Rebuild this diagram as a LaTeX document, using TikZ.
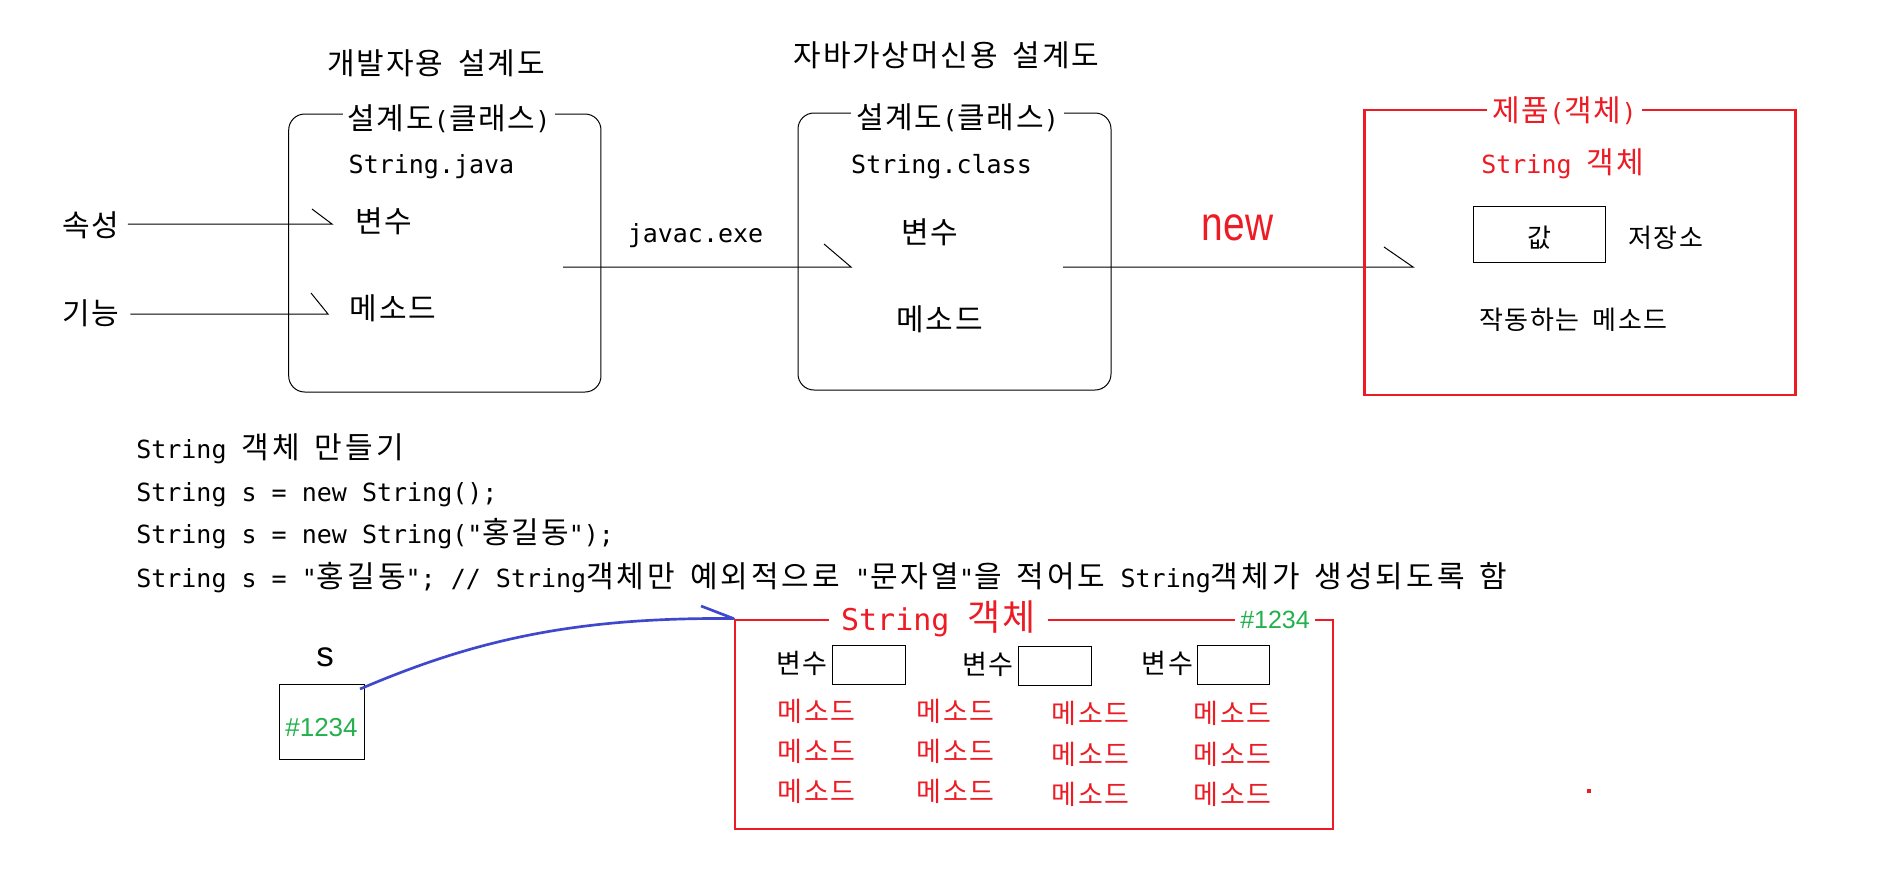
\documentclass[tikz,border=0pt]{standalone}
\usepackage{fontspec}
\setmonofont{DejaVu Sans Mono}
\newfontfamily\kr{Noto Sans CJK KR}[Scale=1.2, LetterSpace=6]
\newfontfamily\krw{Noto Sans CJK KR}[Scale=1.2, LetterSpace=10]
\newfontfamily\lib{Liberation Sans}
\newcommand\K[1]{{\kr #1}}
\newcommand\KW[1]{{\krw #1}}
\definecolor{pred}{RGB}{237,28,36}
\definecolor{pgreen}{RGB}{34,177,76}
\definecolor{pblue}{RGB}{63,72,204}
\tikzset{
  txt/.style={anchor=base, inner sep=0pt, font=\ttfamily\fontsize{18.75pt}{22pt}\selectfont},
  rtxt/.style={anchor=base, inner sep=0pt, font=\ttfamily\fontsize{16.25pt}{20pt}\selectfont},
  stxt/.style={anchor=base, inner sep=0pt, font=\ttfamily\fontsize{16.875pt}{20pt}\selectfont},
  thinline/.style={line width=0.75pt},
  rbox/.style={draw, line width=0.75pt, rounded corners=12pt, inner sep=0pt},
  sqbox/.style={draw, line width=0.75pt, inner sep=0pt},
  redbox/.style={draw=pred, line width=2.2pt, inner sep=0pt},
  gap/.style={fill=white, inner xsep=3.75pt, inner ysep=0pt},
}
\begin{document}
\begin{tikzpicture}[x=0.75pt, y=-0.75pt]
\fill[white] (0,0) rectangle (1898,868);
\useasboundingbox (0,0) rectangle (1898,868);

% headings
\node[txt] (t1) at (436,74) {\K{개발자용} \K{설계도}};
\node[txt] (t2) at (946.5,66) {\K{자바가상머신용} \K{설계도}};

% left class box
\node[rbox, minimum width=234.2pt, minimum height=208.5pt] (lb) at (444.85,253) {};
\node[txt, gap] (lbt) at (449,129) {\K{설계도}(\K{클래스})};
\node[txt] (lj) at (431.5,173) {String.java};
\node[txt] (lv) at (383.5,232) {\K{변수}};
\node[txt] (lm) at (393,319) {\K{메소드}};
\node[txt] (attr) at (91,236) {\K{속성}};
\node[txt] (func) at (91,324) {\K{기능}};

\coordinate (a1e) at (332,224);
\coordinate (a1b) at (312,209);
\coordinate (a2e) at (328,314);
\coordinate (a2b) at (311,293);
\draw[thinline, shorten <=6pt] (attr.east |- a1e) -- (a1e) -- (a1b);
\draw[thinline, shorten <=8pt] (func.east |- a2e) -- (a2e) -- (a2b);

% middle class box
\node[rbox, minimum width=234.75pt, minimum height=207.75pt] (mb) at (954.5,251.5) {};
\node[txt, gap] (mbt) at (957.5,128) {\K{설계도}(\K{클래스})};
\node[txt] (mc) at (941.5,173) {String.class};
\node[txt] (mv) at (929.5,243) {\K{변수}};
\node[txt] (mm) at (939.5,330) {\K{메소드}};

\node[txt] (javac) at (695.5,242) {javac.exe};
\coordinate (j1) at (563,267);
\coordinate (j2) at (851,267);
\coordinate (j2b) at (824,244);
\draw[thinline] (j1) -- (j2) -- (j2b);

% new arrow
\node[anchor=base, inner sep=0pt, text=pred, font=\lib\fontsize{36pt}{40pt}\selectfont] (new) at (1237.5,240) {\scalebox{0.81}[1]{new}};
\coordinate (n1) at (1063,267);
\coordinate (n2) at (1413,267);
\coordinate (n2b) at (1384,247);
\draw[thinline] (n1) -- (n2) -- (n2b);

% product (object) box
\node[redbox, minimum width=322.9pt, minimum height=213.75pt] (prod) at (1579.75,252.5) {};
\node[txt, gap, text=pred] (prodt) at (1564.5,121) {\K{제품}(\K{객체})};
\node[txt, text=pred] (strobj) at (1562.5,173) {String \K{객체}};
\node[sqbox, minimum width=99pt, minimum height=42pt] (val) at (1539,234) {};
\node[rtxt] (valt) at (1539,247) {\K{값}};
\node[rtxt] (store) at (1665.5,247) {\K{저장소}};
\node[rtxt] (meth) at (1573.5,329) {\K{작동하는} \K{메소드}};

% code lines
\node[txt, anchor=base west] (c1) at (136,458) {String \KW{객체} \KW{만들기}};
\node[txt, anchor=base west] (c2) at (136,501) {String s = new String();};
\node[txt, anchor=base west] (c3) at (136,543) {String s = new String("\K{홍길동}");};
\node[txt, anchor=base west] (c4) at (136,587) {String s = "\KW{홍길동}"; // String\KW{객체만} \KW{예외적으로} "\KW{문자열}"\KW{을} \KW{적어도} String\KW{객체가} \KW{생성되도록} \KW{함}};

% reference variable s
\node[anchor=base, inner sep=0pt, font=\lib\fontsize{26.25pt}{30pt}\selectfont] (sl) at (325,666) {s};
\node[sqbox, minimum width=63.75pt, minimum height=56.25pt] (sbox) at (321.5,721.5) {};
\node[anchor=base, inner sep=0pt, text=pgreen, font=\lib\fontsize{19.5pt}{22pt}\selectfont] (addr2) at (321.5,736) {\#1234};

% String object box
\node[redbox, minimum width=448.5pt, minimum height=156.75pt] (obj) at (1034,724.5) {};
\node[anchor=base, fill=white, inner xsep=9pt, inner ysep=0pt, text=pred, font=\ttfamily\fontsize{22.5pt}{26pt}\selectfont] (objt) at (938.5,630) {String \K{객체}};
\node[anchor=base, fill=white, inner xsep=4pt, inner ysep=0pt, text=pgreen, font=\lib\fontsize{18.75pt}{22pt}\selectfont] (addr1) at (1275,628) {\#1234};

\node[stxt] (v1) at (802,673) {\K{변수}};
\node[stxt] (v2) at (988,674) {\K{변수}};
\node[stxt] (v3) at (1167.5,673) {\K{변수}};
\node[sqbox, minimum width=54.75pt, minimum height=29.25pt] (f1) at (868.5,664.5) {};
\node[sqbox, minimum width=54.75pt, minimum height=29.25pt] (f2) at (1054.5,665.5) {};
\node[sqbox, minimum width=54pt, minimum height=29.25pt] (f3) at (1233,664.5) {};

\foreach \r/\ya/\yb in {1/721/723, 2/761/764, 3/801/804} {
  \node[stxt, text=pred] (m\r a) at (816.5,\ya) {\K{메소드}};
  \node[stxt, text=pred] (m\r b) at (955.5,\ya) {\K{메소드}};
  \node[stxt, text=pred] (m\r c) at (1090.5,\yb) {\K{메소드}};
  \node[stxt, text=pred] (m\r d) at (1232.5,\yb) {\K{메소드}};
}

% reference arrow
\coordinate (bs) at (360,689);
\coordinate (bb) at (701,606);
\draw[pblue, line width=2pt, line join=round] (bs) .. controls (470,642) and (570,617) .. (obj.north west) -- (bb);

% stray dot
\fill[pred] (1587,789) rectangle (1591,793);
\end{tikzpicture}
\end{document}
